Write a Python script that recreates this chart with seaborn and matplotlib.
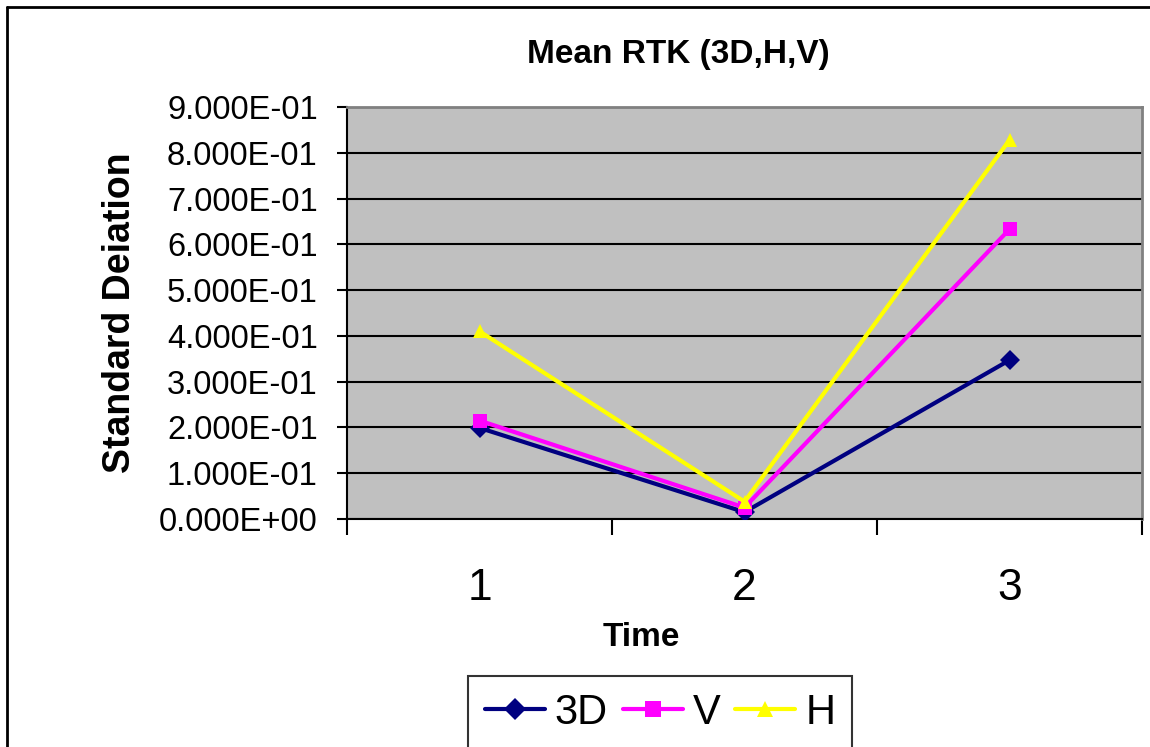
import matplotlib
matplotlib.use("Agg")
import matplotlib.pyplot as plt
import seaborn as sns
import pandas as pd
from matplotlib.ticker import FuncFormatter, FixedLocator, NullFormatter
from matplotlib.lines import Line2D

# Data
times = [1, 2, 3]
series_names = ["3D", "V", "H"]
values_3d = [0.199, 0.015, 0.347]
values_v = [0.215, 0.025, 0.633]
values_h = [0.410, 0.038, 0.828]

df = pd.DataFrame({
    "Time": times * 3,
    "value": values_3d + values_v + values_h,
    "series": [s for s in series_names for _ in times],
})

palette = {"3D": "#000080", "V": "#FF00FF", "H": "#FFFF00"}
markers = {"3D": "D", "V": "s", "H": "^"}

sns.set_theme(style="white")
plt.rcParams["font.family"] = ["Liberation Sans", "DejaVu Sans"]
for key in ["text.color", "axes.labelcolor", "xtick.color", "ytick.color"]:
    plt.rcParams[key] = "black"

W, H = 1150, 747
fig = plt.figure(figsize=(W / 100, H / 100), dpi=100)
ax = fig.add_axes([347 / W, 1 - 519 / H, (1142 - 347) / W, (519 - 107) / H])
ax.set_facecolor("#C0C0C0")

sns.lineplot(data=df, x="Time", y="value", hue="series", style="series",
             palette=palette, markers=markers, dashes=False, linewidth=3,
             markersize=10, markeredgewidth=0, ax=ax, legend=False, zorder=3)

ax.set_xlim(0.5, 3.5)
ax.set_ylim(0, 0.9)

# y axis: scientific labels and gridlines
ax.yaxis.set_major_locator(FixedLocator([i / 10 for i in range(10)]))
ax.yaxis.set_major_formatter(FuncFormatter(lambda v, p: "{:.3E}".format(v)))
ax.grid(axis="y", color="black", linewidth=1.5, zorder=1)
ax.set_axisbelow(True)

# x axis: category labels centered, tick marks between categories
ax.xaxis.set_major_locator(FixedLocator([0.5, 1.5, 2.5, 3.5]))
ax.xaxis.set_major_formatter(NullFormatter())
ax.xaxis.set_minor_locator(FixedLocator(times))
ax.xaxis.set_minor_formatter(FuncFormatter(lambda v, p: str(int(v))))
ax.tick_params(axis="x", which="major", direction="out", length=11.5, width=1.5,
               color="black", bottom=True)
ax.tick_params(axis="x", which="minor", length=0, labelsize=32, pad=35)
ax.tick_params(axis="y", direction="out", length=7, width=1.5, color="black",
               left=True, labelsize=23.5, pad=14)

for side in ["left", "bottom"]:
    ax.spines[side].set_color("black")
    ax.spines[side].set_linewidth(1.5)
for side in ["top", "right"]:
    ax.spines[side].set_color("#808080")
    ax.spines[side].set_linewidth(2)

ax.set_xlabel("Time", fontsize=24, fontweight="bold", va="center")
ax.xaxis.set_label_coords((641 - 347) / 795, (519 - 637) / 412)
ax.set_ylabel("Standard Deiation", fontsize=27, fontweight="bold", va="center")
ax.yaxis.set_label_coords((120 - 347) / 795, 0.5)
fig.text(678 / W, 1 - 55 / H, "Mean RTK (3D,H,V)", fontsize=24,
         fontweight="bold", ha="center", va="center")

# Legend
handles = [Line2D([0], [0], color=palette[s], marker=markers[s], linewidth=3,
                  markersize=11, markeredgewidth=0) for s in series_names]
leg = fig.legend(handles, series_names, loc="upper center",
                 bbox_to_anchor=(660 / W, 1 - 676 / H), ncol=3,
                 fontsize=30, frameon=True, fancybox=False, handlelength=1.44,
                 handletextpad=0.24, columnspacing=0.36, borderpad=0.4,
                 borderaxespad=0)
leg.get_frame().set_edgecolor("black")
leg.get_frame().set_linewidth(1.5)

# Chart border (left and top edges visible)
fig.add_artist(Line2D([7 / W, 7 / W], [0, 1 - 7 / H], color="black",
                      linewidth=2, transform=fig.transFigure))
fig.add_artist(Line2D([7 / W, 1], [1 - 7 / H, 1 - 7 / H], color="black",
                      linewidth=2, transform=fig.transFigure))

fig.savefig("out.png", dpi=100, facecolor="white")
